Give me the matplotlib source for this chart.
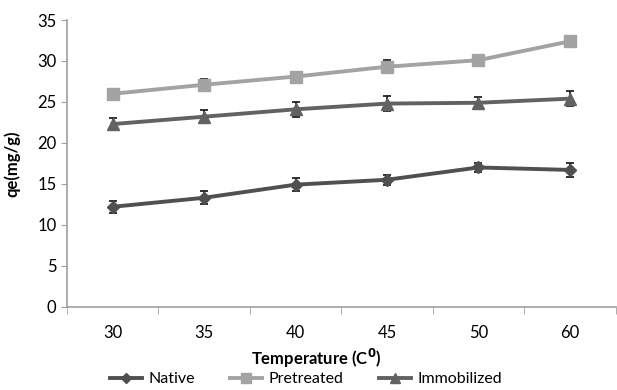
import numpy as np
import matplotlib.pyplot as plt
from matplotlib.lines import Line2D

plt.rcParams['font.family'] = ['Lato', 'DejaVu Sans']

temps = ["30", "35", "40", "45", "50", "60"]

native = [12.2, 13.3, 14.9, 15.5, 17.0, 16.7]
native_err = [0.7, 0.8, 0.8, 0.6, 0.5, 0.9]

pretreated = [26.0, 27.1, 28.1, 29.3, 30.1, 32.4]
pretreated_err = [0.4, 0.7, 0.6, 0.8, 0.6, 0.6]

immobilized = [22.3, 23.2, 24.1, 24.8, 24.9, 25.4]
immobilized_err = [0.7, 0.8, 0.9, 0.9, 0.7, 0.9]

fig = plt.figure(figsize=(6.17, 3.9), dpi=100)
ax = fig.add_axes([0.1086, 0.2136, 0.889, 0.735])

x = np.arange(len(temps))
series = [
    ("Native", native, native_err, "#505050", "D", 6),
    ("Pretreated", pretreated, pretreated_err, "#a3a3a3", "s", 9),
    ("Immobilized", immobilized, immobilized_err, "#626262", "^", 9),
]
handles = []
for name, vals, err, col, mk, ms in series:
    ax.errorbar(x, vals, yerr=err, color=col, marker=mk, markersize=ms,
                linewidth=2.8, ecolor="#222222", elinewidth=1.3, capsize=3,
                capthick=1.3, zorder=3)
    handles.append(Line2D([], [], color=col, marker=mk, markersize=ms * 0.8,
                          linewidth=2.8, label=name))

ax.set_xlim(-0.5, len(temps) - 0.5)
ax.set_ylim(0, 35)
ax.set_yticks(range(0, 36, 5))
ax.set_xticks(x)
ax.set_xticklabels(temps)
ax.set_xticks(np.arange(-0.5, len(temps), 1), minor=True)
ax.tick_params(axis="x", which="major", length=0, labelsize=12, pad=13)
ax.tick_params(axis="x", which="minor", length=5, color="#a0a0a0")
ax.tick_params(axis="y", length=4, color="#a0a0a0", labelsize=12)

for s in ["top", "right"]:
    ax.spines[s].set_visible(False)
for s in ["left", "bottom"]:
    ax.spines[s].set_color("#a0a0a0")
    ax.spines[s].set_linewidth(1.2)

ax.set_xlabel(r"Temperature (C$^\mathbf{0}$)", fontsize=12, fontweight="bold",
              labelpad=4)
ax.xaxis.set_label_coords(0.455, -0.14)
ax.set_ylabel("qe(mg/g)", fontsize=12, fontweight="bold", labelpad=12)

fig.legend(handles=handles, loc="center", bbox_to_anchor=(0.496, 0.028), ncol=3,
           frameon=False, fontsize=11.5, handlelength=2.0, columnspacing=2.2,
           handletextpad=0.4, borderpad=0.1)

fig.savefig("out.png", dpi=100)
